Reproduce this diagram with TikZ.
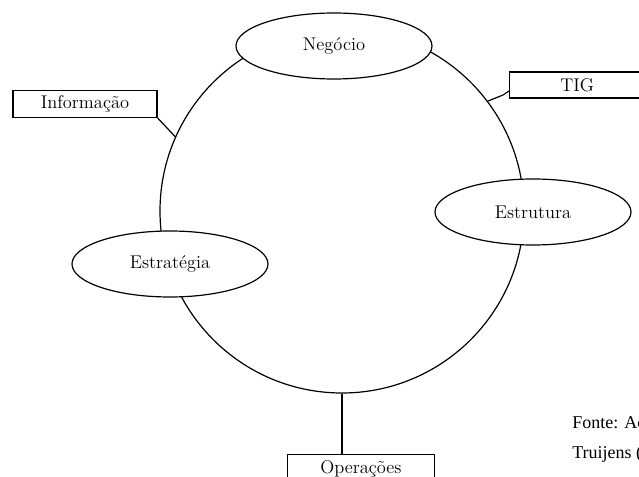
\documentclass[tikz,border=0pt]{standalone}
\usepackage{fontspec}
\newfontfamily\srcfont{Liberation Serif}
\usetikzlibrary{shapes.geometric}

\tikzset{
  stroke/.style={draw=black, line width=0.9pt},
  topic/.style={stroke, ellipse, fill=white, inner sep=0pt,
    minimum width=147pt, minimum height=49.5pt, font=\fontsize{13.8}{16}\selectfont},
  tag/.style={stroke, rectangle, fill=white, inner sep=0pt,
    minimum height=20pt, font=\fontsize{13.8}{16}\selectfont},
  link/.style={stroke}
}

\begin{document}
\begin{tikzpicture}[x=0.75pt, y=-0.75pt]
  % page frame (1 unit = 1 px)
  \clip (0,0) rectangle (639,477);
  \fill[white] (0,0) rectangle (639,477);

  % central cycle
  \node[stroke, circle, minimum size=273pt, inner sep=0pt] (ring) at (342,211) {};

  % the four views on the cycle
  \node[topic] (neg) at (334,46)  {Negócio};
  \node[topic] (est) at (533,212) {Estrutura};
  \node[topic] (str) at (170,264) {Estratégia};

  % boxes linked to the cycle
  \node[tag, minimum width=108pt] (info) at (85,104) {Informação};
  \node[tag, anchor=west, text width=120pt, align=left, inner xsep=0pt,
        minimum height=19.5pt] (tig) at (509,85) {\hspace*{38pt}TIG};
  \node[tag, anchor=north west, minimum width=110pt, minimum height=30pt,
        text depth=12pt, text height=10pt] (ops) at (287,454) {Operações};

  \draw[link] (info.south east) -- (ring.156);
  \draw[link] (tig.west) ++(0,6) coordinate (tigfoot) -- ++(-6,4) -- (ring.37);
  \draw[link] (ring.south) -- (ring.south |- ops.north);

  % source note
  \node[anchor=base west, align=left, inner sep=0pt,
        font=\srcfont\fontsize{13.5}{22.5}\selectfont] (src) at (572,458)
        {Fonte: Ac\\Truijens (};
\end{tikzpicture}
\end{document}
